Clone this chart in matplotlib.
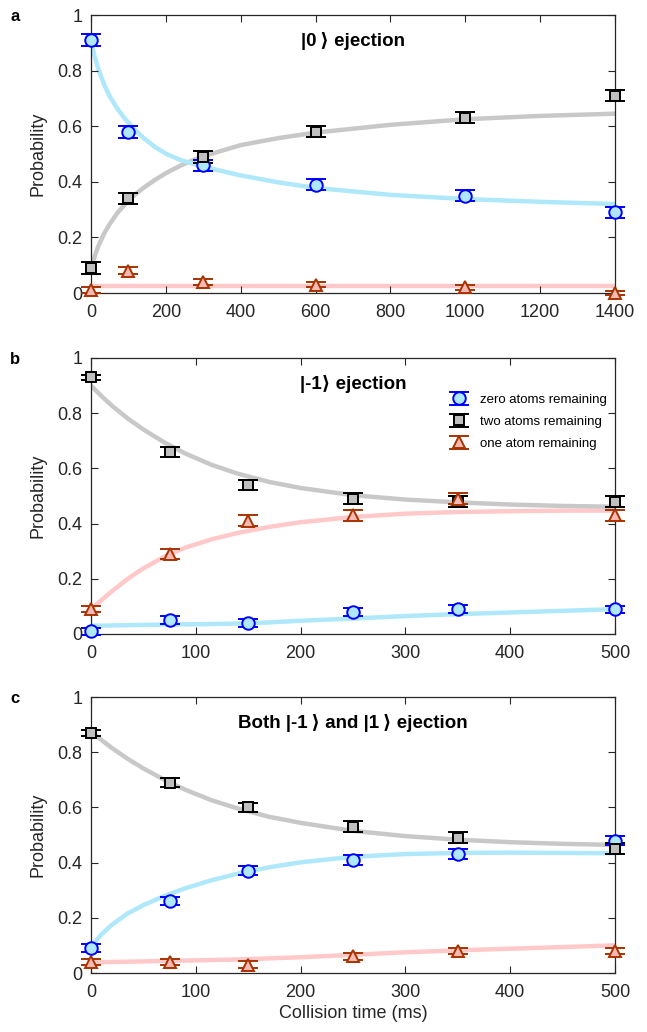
import matplotlib
matplotlib.use('Agg')
import matplotlib.pyplot as plt

plt.rcParams['font.family'] = ['Liberation Sans', 'DejaVu Sans']

# ---- panel a : |0> ejection ----
t_a = [0, 100, 300, 600, 1000, 1400]
zero_a = [0.91, 0.58, 0.46, 0.39, 0.35, 0.29]
zero_a_err = [0.022, 0.021, 0.02, 0.02, 0.02, 0.02]
two_a = [0.09, 0.34, 0.49, 0.58, 0.63, 0.71]
two_a_err = [0.022, 0.021, 0.021, 0.02, 0.02, 0.02]
one_a = [0.01, 0.08, 0.04, 0.03, 0.02, 0.00]
one_a_err = [0.01, 0.012, 0.01, 0.01, 0.01, 0.008]

fit_t_a = [0, 10, 20, 35, 50, 70, 90, 115, 140, 170, 200, 240, 280, 330, 400, 500, 600, 800, 1000, 1200, 1400]
fit_zero_a = [0.905, 0.850, 0.805, 0.750, 0.707, 0.664, 0.628, 0.590, 0.558, 0.526, 0.501, 0.478, 0.462,
              0.445, 0.423, 0.398, 0.378, 0.353, 0.338, 0.328, 0.320]
fit_two_a = [0.090, 0.133, 0.170, 0.214, 0.248, 0.287, 0.318, 0.351, 0.378, 0.406, 0.431, 0.459, 0.482,
             0.504, 0.532, 0.557, 0.577, 0.605, 0.625, 0.637, 0.645]
fit_one_a = [0.025] * len(fit_t_a)

# ---- panel b : |-1> ejection ----
t_b = [0, 75, 150, 250, 350, 500]
zero_b = [0.01, 0.05, 0.04, 0.08, 0.09, 0.09]
zero_b_err = [0.012, 0.015, 0.013, 0.015, 0.015, 0.013]
two_b = [0.93, 0.66, 0.54, 0.49, 0.48, 0.48]
two_b_err = [0.01, 0.018, 0.018, 0.02, 0.02, 0.02]
one_b = [0.09, 0.29, 0.41, 0.43, 0.49, 0.43]
one_b_err = [0.012, 0.018, 0.02, 0.02, 0.02, 0.02]

fit_t_b = [0, 10, 20, 35, 50, 70, 90, 115, 140, 170, 200, 250, 300, 350, 400, 450, 500]
fit_zero_b = [0.030, 0.030, 0.031, 0.032, 0.033, 0.034, 0.035, 0.036, 0.038, 0.042, 0.048, 0.056, 0.065,
              0.072, 0.078, 0.084, 0.090]
fit_two_b = [0.900, 0.862, 0.827, 0.781, 0.741, 0.694, 0.654, 0.613, 0.581, 0.551, 0.529, 0.503, 0.487,
             0.477, 0.469, 0.464, 0.461]
fit_one_b = [0.090, 0.123, 0.155, 0.200, 0.238, 0.280, 0.313, 0.343, 0.366, 0.388, 0.405, 0.424, 0.436,
             0.442, 0.445, 0.447, 0.447]

# ---- panel c : both |-1> and |1> ejection ----
t_c = [0, 75, 150, 250, 350, 500]
zero_c = [0.09, 0.26, 0.37, 0.41, 0.43, 0.48]
zero_c_err = [0.015, 0.015, 0.016, 0.018, 0.018, 0.018]
two_c = [0.87, 0.69, 0.60, 0.53, 0.49, 0.45]
two_c_err = [0.01, 0.015, 0.016, 0.02, 0.02, 0.02]
one_c = [0.04, 0.04, 0.03, 0.06, 0.08, 0.08]
one_c_err = [0.012, 0.012, 0.012, 0.012, 0.012, 0.012]

fit_t_c = [0, 10, 20, 35, 50, 70, 90, 115, 140, 170, 200, 250, 300, 350, 400, 450, 500]
fit_zero_c = [0.095, 0.140, 0.175, 0.216, 0.246, 0.279, 0.307, 0.336, 0.360, 0.383, 0.401, 0.421, 0.431,
              0.435, 0.436, 0.435, 0.434]
fit_two_c = [0.875, 0.844, 0.815, 0.776, 0.741, 0.700, 0.664, 0.626, 0.596, 0.566, 0.544, 0.515, 0.496,
             0.483, 0.474, 0.468, 0.464]
fit_one_c = [0.038, 0.039, 0.040, 0.041, 0.042, 0.044, 0.045, 0.047, 0.049, 0.053, 0.057, 0.066, 0.075,
             0.082, 0.088, 0.094, 0.100]

ytick_vals = [0, 0.2, 0.4, 0.6, 0.8, 1]
ytick_labels = ['0', '0.2', '0.4', '0.6', '0.8', '1']

TXT = '#262626'
BLUE_FIT, GRAY_FIT, PINK_FIT = '#aee8fa', '#c8c8c8', '#ffc9c9'
BLUE_FACE, GRAY_FACE, PINK_FACE = '#aee8fa', '#c0c0c0', '#f7b9b4'
BLUE_EDGE, GRAY_EDGE, RED_EDGE = '#0000ff', '#000000', '#a83300'


def draw_panel(ax, t, zero, zero_err, two, two_err, one, one_err,
               ft, fz, ftw, fo, xmax, xstep, title):
    ax.plot(ft, fo, color=PINK_FIT, lw=3.2, zorder=1)
    ax.plot(ft, ftw, color=GRAY_FIT, lw=3.2, zorder=1)
    ax.plot(ft, fz, color=BLUE_FIT, lw=3.2, zorder=1)

    conts = []
    conts.append(ax.errorbar(t, zero, yerr=zero_err, fmt='o', ms=9, mfc=BLUE_FACE, mec=BLUE_EDGE,
                             mew=1.4, ecolor=BLUE_EDGE, elinewidth=1.3, capsize=7, capthick=1.3,
                             zorder=3, label='zero atoms remaining'))
    conts.append(ax.errorbar(t, two, yerr=two_err, fmt='s', ms=6.5, mfc=GRAY_FACE, mec=GRAY_EDGE,
                             mew=1.4, ecolor=GRAY_EDGE, elinewidth=1.3, capsize=7, capthick=1.3,
                             zorder=3, label='two atoms remaining'))
    conts.append(ax.errorbar(t, one, yerr=one_err, fmt='^', ms=9, mfc=PINK_FACE, mec=RED_EDGE,
                             mew=1.4, ecolor=RED_EDGE, elinewidth=1.3, capsize=7, capthick=1.3,
                             zorder=3, label='one atom remaining'))
    for c in conts:
        for art in c.get_children():
            art.set_clip_on(False)

    ax.set_xlim(0, xmax)
    ax.set_ylim(0, 1)
    ax.set_xticks(list(range(0, xmax + 1, xstep)))
    ax.set_yticks(ytick_vals)
    ax.set_yticklabels(ytick_labels)
    ax.tick_params(direction='in', top=True, right=True, length=5, width=0.8,
                   labelsize=13, colors=TXT)
    ax.tick_params(axis='x', pad=8)
    ax.tick_params(axis='y', pad=6)
    for s in ax.spines.values():
        s.set_color(TXT)
        s.set_linewidth(0.9)
    ax.set_ylabel('Probability', fontsize=13, color=TXT, labelpad=8)
    ax.text(0.5, 0.907, title, transform=ax.transAxes, ha='center', va='center',
            fontsize=13.5, fontweight='bold', color='black')
    return conts


fig = plt.figure(figsize=(6.47, 10.32), dpi=100)
W, H = 647, 1032
left, right = 91, 615
tops = [15, 358, 697]
bottoms = [293, 634, 973]
axes = []
for tp, bt in zip(tops, bottoms):
    axes.append(fig.add_axes([left / W, 1 - bt / H, (right - left) / W, (bt - tp) / H]))

draw_panel(axes[0], t_a, zero_a, zero_a_err, two_a, two_a_err, one_a, one_a_err,
           fit_t_a, fit_zero_a, fit_two_a, fit_one_a, 1400, 200, '|0\u2009\u27e9 ejection')
conts = draw_panel(axes[1], t_b, zero_b, zero_b_err, two_b, two_b_err, one_b, one_b_err,
                   fit_t_b, fit_zero_b, fit_two_b, fit_one_b, 500, 100, '|-1\u27e9 ejection')
draw_panel(axes[2], t_c, zero_c, zero_c_err, two_c, two_c_err, one_c, one_c_err,
           fit_t_c, fit_zero_c, fit_two_c, fit_one_c, 500, 100,
           'Both |-1\u2009\u27e9 and |1\u2009\u27e9 ejection')

axes[1].legend(handles=conts, loc='upper right', bbox_to_anchor=(1.0, 0.90), frameon=False,
               fontsize=9.5, handlelength=1.6, handletextpad=0.8, labelspacing=0.75,
               borderaxespad=0.2)

axes[2].set_xlabel('Collision time (ms)', fontsize=13, color=TXT, labelpad=3)

for lab, tp in zip(['a', 'b', 'c'], tops):
    fig.text(15 / W, 1 - (tp + 6) / H, lab, ha='center', va='baseline',
             fontsize=12, fontweight='bold')

fig.savefig('out.png', dpi=100)
